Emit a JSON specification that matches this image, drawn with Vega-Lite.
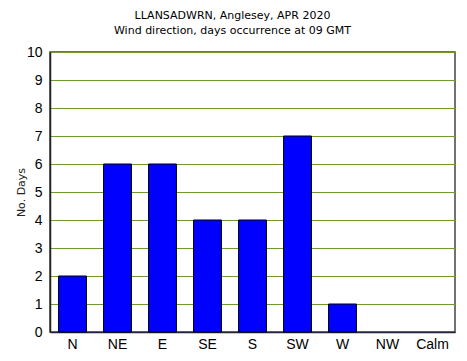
{
  "$schema": "https://vega.github.io/schema/vega-lite/v6.json",
  "width": 405,
  "height": 280,
  "autosize": {"type": "none"},
  "padding": {"left": 50, "top": 52, "right": 12, "bottom": 29},
  "background": "white",
  "title": {
    "text": ["LLANSADWRN, Anglesey, APR 2020", "Wind direction, days occurrence at 09 GMT"],
    "font": "DejaVu Sans",
    "fontSize": 11,
    "fontWeight": "normal",
    "color": "#000000",
    "anchor": "middle",
    "frame": "group",
    "dx": -20,
    "offset": 9,
    "lineHeight": 15
  },
  "config": {
    "view": {"stroke": "#444444", "strokeWidth": 1.5},
    "axis": {"labelFont": "Liberation Sans", "labelColor": "#000000"}
  },
  "data": {
    "values": [
      {"dir": "N", "days": 2},
      {"dir": "NE", "days": 6},
      {"dir": "E", "days": 6},
      {"dir": "SE", "days": 4},
      {"dir": "S", "days": 4},
      {"dir": "SW", "days": 7},
      {"dir": "W", "days": 1},
      {"dir": "NW", "days": 0},
      {"dir": "Calm", "days": 0}
    ]
  },
  "transform": [{"filter": "datum.days > 0"}],
  "mark": {"type": "bar", "color": "#0000FF", "stroke": "#000000", "strokeWidth": 1},
  "encoding": {
    "x": {
      "field": "dir",
      "type": "nominal",
      "sort": null,
      "scale": {"domain": ["N", "NE", "E", "SE", "S", "SW", "W", "NW", "Calm"], "paddingInner": 0.38, "paddingOuter": 0.19},
      "axis": {
        "title": null,
        "labelAngle": 0,
        "labelFontSize": 14,
        "labelPadding": 5,
        "ticks": false,
        "domainColor": "#222244",
        "domainWidth": 1.5
      }
    },
    "y": {
      "field": "days",
      "type": "quantitative",
      "scale": {"domain": [0, 10], "nice": false},
      "axis": {
        "title": "No. Days",
        "titleFont": "DejaVu Sans",
        "titleFontSize": 11,
        "titleFontWeight": "normal",
        "titleColor": "#222222",
        "titlePadding": 0,
        "values": [0, 1, 2, 3, 4, 5, 6, 7, 8, 9, 10],
        "labelFontSize": 14,
        "labelPadding": 8,
        "ticks": false,
        "grid": true,
        "gridColor": "#6B9B2F",
        "gridOpacity": 1,
        "gridWidth": 1,
        "domainColor": "#222222",
        "domainWidth": 1.5
      }
    }
  }
}
